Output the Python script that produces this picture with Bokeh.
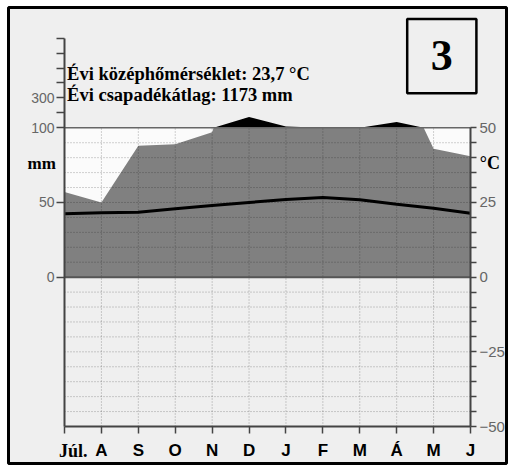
from bokeh.plotting import figure
from bokeh.models import (Range1d, LinearAxis, FixedTicker, Label, BoxAnnotation)
from bokeh.embed import file_html
from bokeh.resources import INLINE

# ---- data ----
months = ["Júl.", "A", "S", "O", "N", "D", "J", "F", "M", "Á", "M", "J"]
precip_mm = [57, 50, 88, 89, 97, 172, 108, 100, 100, 138, 86, 81]
temp_c = [21.2, 21.6, 21.7, 22.9, 24.0, 25.0, 26.0, 26.7, 25.9, 24.4, 23.1, 21.4]
left_ticks = [0, 50, 100, 110, 120, 130, 140, 150, 160]
left_labels = {0: "0", 50: "50", 100: "100", 120: "300"}
temp_ticks = list(range(-50, 55, 5))
temp_labels = {50: "50", 25: "25", 0: "0", -25: "\u221225", -50: "\u221250"}
grid_mm = [v for v in range(-90, 100, 10) if v != 0]
title1 = "Évi középhőmérséklet: 23,7 °C"
title2 = "Évi csapadékátlag: 1173 mm"
badge = "3"

BG = "#efefef"
n = len(months)
xs_idx = list(range(n))
YMIN, YMM = -100, 100          # bottom of diagram, top of linear mm part

# ---- layout geometry (pixels; canvas starts at page 0,0) ----
W, H = 512, 466
PX = 406 / (n - 1)             # px per month
PY = 1.4935                    # px per display-mm
FL, FT, FR, FB = 8, 7, 506, 463   # outer frame edges
x0 = -(64 - FL) / PX
x1 = x0 + (FR - FL) / PX
y0 = YMIN - (FB - 426) / PY
y1 = y0 + (FB - FT) / PY

p = figure(width=W, height=H, output_backend="svg", toolbar_location=None,
           x_range=Range1d(x0, x1), y_range=Range1d(y0, y1),
           x_axis_location=None, y_axis_location=None,
           min_border_left=FL, min_border_right=W - FR,
           min_border_top=FT, min_border_bottom=H - FB)
p.extra_y_ranges = {"temp": Range1d(y0 / 2, y1 / 2)}
p.background_fill_color = BG
p.border_fill_color = "#ffffff"
p.outline_line_color = "#000000"
p.outline_line_width = 3
p.xgrid.visible = False
p.ygrid.visible = False

# white 0..100 mm block
p.add_layout(BoxAnnotation(left=0, right=n - 1, bottom=0, top=YMM, fill_color="#fbfbfb",
                           fill_alpha=1, line_color=None, level="underlay"))

# precipitation polygon (above 100 mm compressed 1:10)
xs, vs = [], []
for i in range(n):
    xs.append(i); vs.append(precip_mm[i])
    if i < n - 1:
        a, b = precip_mm[i], precip_mm[i + 1]
        if (a - 100) * (b - 100) < 0:
            xs.append(i + (100 - a) / (b - a)); vs.append(100)
gray_top = [min(v, 100) for v in vs]
black_top = [100 + (max(v, 100) - 100) / 10 for v in vs]
p.varea(x=xs, y1=0, y2=gray_top, fill_color="#808080")
p.varea(x=xs, y1=100, y2=black_top, fill_color="#000000")

# dotted grid
GC, GA = "#000000", 0.35
p.segment(x0=xs_idx[1:-1], y0=[YMIN] * (n - 2), x1=xs_idx[1:-1], y1=[YMM] * (n - 2),
          line_color=GC, line_alpha=GA, line_dash="1 2", line_width=1)
p.segment(x0=[0] * len(grid_mm), y0=grid_mm, x1=[n - 1] * len(grid_mm), y1=grid_mm,
          line_color=GC, line_alpha=GA, line_dash="1 2", line_width=1)
# solid 0 and 100 mm lines
p.segment(x0=[0, 0], y0=[0, YMM], x1=[n - 1, n - 1], y1=[0, YMM],
          line_color=["#555555", "#666666"], line_width=[2, 1.5])

# temperature
p.line(x=xs_idx, y=temp_c, y_range_name="temp", line_color="#000000", line_width=3)

# axes
AX = "#444444"
def style(ax, size, color, tick_out, standoff, font="Liberation Sans", weight="normal"):
    ax.axis_line_color = AX; ax.axis_line_width = 2
    ax.major_tick_line_color = AX; ax.major_tick_line_width = 1.5
    ax.major_tick_out = tick_out; ax.major_tick_in = 0
    ax.minor_tick_line_color = None
    ax.major_label_text_font = font
    ax.major_label_text_font_size = size
    ax.major_label_text_font_style = weight
    ax.major_label_text_color = color
    ax.major_label_standoff = standoff

xa = LinearAxis(fixed_location=YMIN, bounds=(0, n - 1), ticker=FixedTicker(ticks=xs_idx))
xa.major_label_overrides = {i: (m if i > 0 else "") for i, m in enumerate(months)}
style(xa, "17px", "#000000", 7, 7, weight="bold")
p.add_layout(xa, "below")

ya = LinearAxis(fixed_location=0, bounds=(YMIN, 160), ticker=FixedTicker(ticks=left_ticks))
ya.major_label_overrides = {t: left_labels.get(t, "") for t in left_ticks}
style(ya, "14px", "#666666", 8, 2)
p.add_layout(ya, "left")

ra = LinearAxis(y_range_name="temp", fixed_location=n - 1, bounds=(-50, 50),
                ticker=FixedTicker(ticks=temp_ticks))
ra.major_label_overrides = {t: temp_labels.get(t, "") for t in temp_ticks}
style(ra, "15px", "#666666", 6, 3)
p.add_layout(ra, "right")

# texts
serif = "Liberation Serif"
def lab(x, y, text, size, **kw):
    p.add_layout(Label(x=x, y=y, text=text, text_font=serif, text_font_style="bold",
                       text_font_size=size, text_color="#000000", **kw))

lab(0.07, 135.7, title1, "18.5px", text_baseline="alphabetic")
lab(0.07, 122.1, title2, "18.5px", text_baseline="alphabetic")
lab(-1.0, 76.1, "mm", "17px", text_baseline="alphabetic")
lab(11.25, 76.1, "°C", "18px", text_baseline="alphabetic")
lab(0.24, -116.6, months[0], "18px", text_baseline="alphabetic", text_align="center")

p.add_layout(BoxAnnotation(left=9.285, right=11.16, bottom=123.1, top=172.8,
                           fill_color=BG, fill_alpha=1, line_color="#000000",
                           line_alpha=1, line_width=2.5))
lab(10.222, 148.1, badge, "44px", text_align="center", text_baseline="middle")

open("out.html", "w").write(file_html(p, INLINE))
